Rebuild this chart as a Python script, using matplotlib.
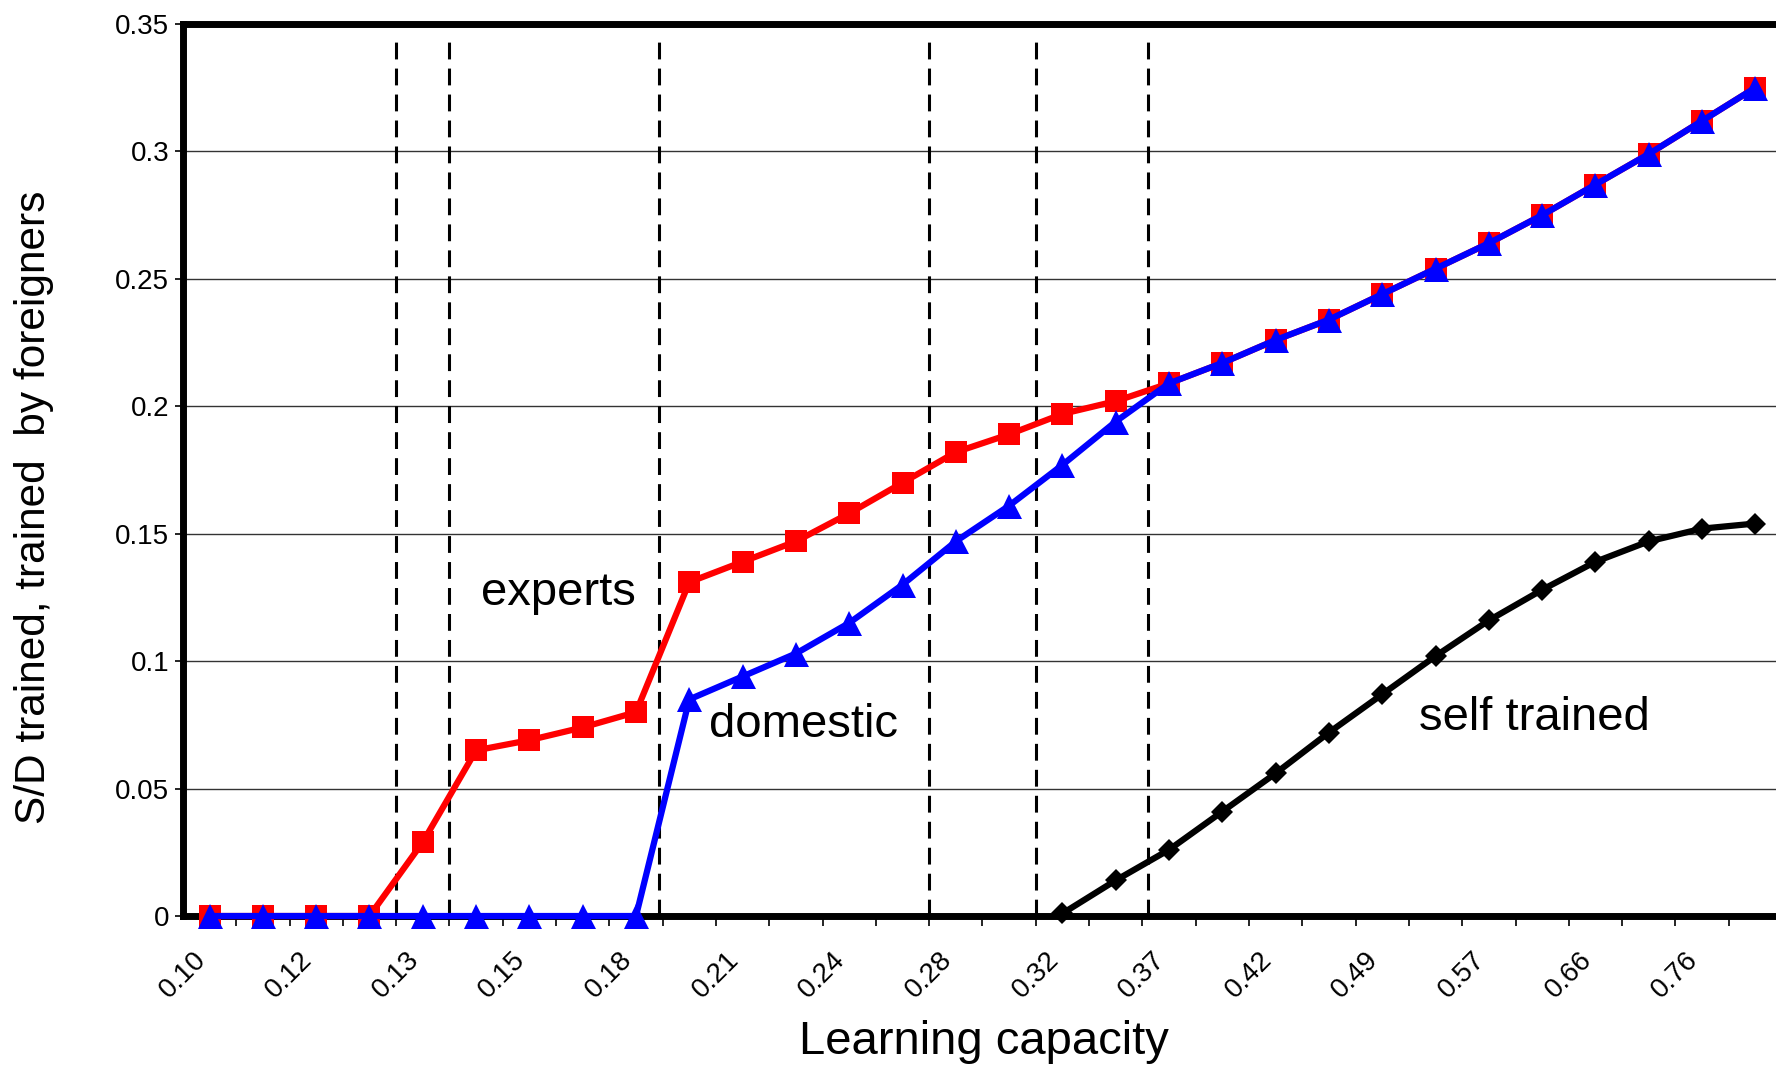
import numpy as np
import matplotlib
matplotlib.use("Agg")
import matplotlib.pyplot as plt
import matplotlib.transforms as mtransforms
from matplotlib.ticker import FixedLocator, FixedFormatter, NullFormatter

plt.rcParams['font.family'] = ['Liberation Sans', 'DejaVu Sans']

# ---- data ----
x_labels = ['0.10', '0.12', '0.13', '0.15', '0.18', '0.21', '0.24', '0.28',
            '0.32', '0.37', '0.42', '0.49', '0.57', '0.66', '0.76']
n_points = 30
experts = [0, 0, 0, 0, 0.029, 0.065, 0.069, 0.074, 0.080, 0.131,
           0.139, 0.147, 0.158, 0.170, 0.182, 0.189, 0.197, 0.202, 0.209, 0.217,
           0.226, 0.234, 0.244, 0.254, 0.264, 0.275, 0.287, 0.299, 0.312, 0.325]
domestic = [0, 0, 0, 0, 0, 0, 0, 0, 0, 0.085,
            0.094, 0.103, 0.115, 0.130, 0.147, 0.161, 0.177, 0.194, 0.209, 0.217,
            0.226, 0.234, 0.244, 0.254, 0.264, 0.275, 0.287, 0.299, 0.312, 0.325]
self_trained = [np.nan] * 16 + [0.001, 0.014, 0.026, 0.041, 0.056, 0.072, 0.087,
                                0.102, 0.116, 0.128, 0.139, 0.147, 0.152, 0.154]
thresholds = [3.5, 4.5, 8.43, 13.5, 15.5, 17.6]
y_ticks = [0, 0.05, 0.1, 0.15, 0.2, 0.25, 0.3, 0.35]
y_ticklabels = ['0', '0.05', '0.1', '0.15', '0.2', '0.25', '0.3', '0.35']

# ---- figure ----
fig = plt.figure(figsize=(17.76, 10.70), dpi=100)
ax = fig.add_axes([0.1030, 0.1439, 0.9004, 0.8337])

x = np.arange(n_points)

for yv in y_ticks[1:-1]:
    ax.axhline(yv, color='#333333', lw=1.0, zorder=1)

for t in thresholds:
    ax.axvline(t, ymin=0, ymax=0.99, color='black', lw=2.2,
               dashes=(5.5, 3), zorder=2)

ax.plot(x, experts, color='#ff0000', lw=4.5, marker='s', markersize=16,
        markeredgewidth=0, zorder=4, clip_on=False)
ax.plot(x, domestic, color='#0000ff', lw=4.5, marker='^', markersize=18,
        markeredgewidth=0, zorder=5, clip_on=False)
ax.plot(x, self_trained, color='black', lw=4.5, marker='D', markersize=11,
        markeredgewidth=0, zorder=6, clip_on=False)

ax.set_xlim(-0.5, n_points - 0.5)
ax.set_ylim(0, 0.35)

for side in ['left', 'right', 'top', 'bottom']:
    ax.spines[side].set_linewidth(5)
    ax.spines[side].set_color('black')
    ax.spines[side].set_zorder(3)

# y ticks
ax.yaxis.set_major_locator(FixedLocator(y_ticks))
ax.yaxis.set_major_formatter(FixedFormatter(y_ticklabels))
ax.tick_params(axis='y', which='major', direction='out', length=6, width=1.2,
               labelsize=20, pad=4)

# x ticks: labels at every other category, minor ticks at boundaries
ax.xaxis.set_major_locator(FixedLocator(list(range(0, n_points, 2))))
ax.xaxis.set_major_formatter(FixedFormatter(x_labels))
ax.xaxis.set_minor_locator(FixedLocator(list(np.arange(0.5, n_points, 1.0))))
ax.xaxis.set_minor_formatter(NullFormatter())
ax.tick_params(axis='x', which='major', length=0, labelsize=20, pad=22)
ax.tick_params(axis='x', which='minor', direction='out', length=7, width=1.2)
shift = mtransforms.ScaledTranslation(-0.17, 0, fig.dpi_scale_trans)
for lbl in ax.get_xticklabels():
    lbl.set_rotation(45)
    lbl.set_ha('right')
    lbl.set_va('top')
    lbl.set_rotation_mode('anchor')
    lbl.set_transform(lbl.get_transform() + shift)

ax.text(5.1, 0.1266, 'experts', fontsize=34, ha='left', va='center', zorder=7)
ax.text(9.37, 0.075, 'domestic', fontsize=34, ha='left', va='center', zorder=7)
ax.text(22.69, 0.0777, 'self trained', fontsize=34, ha='left', va='center', zorder=7)

fig.text(0.554, 0.026, 'Learning capacity', fontsize=34, ha='center', va='center')
fig.text(0.019, 0.526, 'S/D trained, trained  by foreigners', fontsize=30.5,
         ha='center', va='center', rotation=90)

fig.savefig('out.png', dpi=100)
